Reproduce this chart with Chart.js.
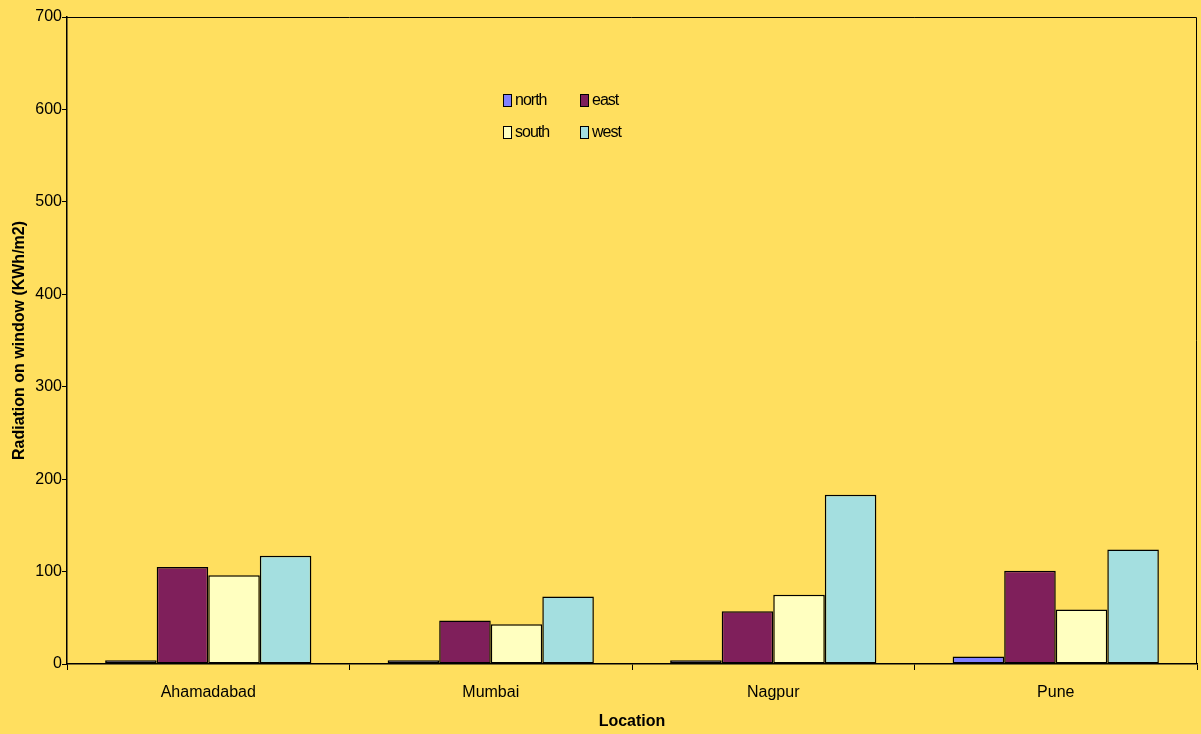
<!DOCTYPE html>
<html>
<head>
<meta charset="utf-8">
<script src="https://cdn.jsdelivr.net/npm/chart.js@4"></script>
<style>
  html, body { margin: 0; padding: 0; background: #FFDF5F; }
  #wrap { width: 1201px; height: 734px; }
</style>
</head>
<body>
<div id="wrap"><canvas id="myChart" width="1201" height="734"></canvas></div>
<script>
// data
const locations = ['Ahamadabad', 'Mumbai', 'Nagpur', 'Pune'];
const north = [4, 4, 4, 8];
const east = [105, 47, 57, 101];
const south = [96, 43, 75, 59];
const west = [117, 73, 183, 124];
const yTicks = [0, 100, 200, 300, 400, 500, 600, 700];

const FONT = "'Liberation Sans', Arial, sans-serif";

// legend drawn inside the plot, 2 x 2
const boxLegend = {
    id: 'boxLegend',
    afterDraw(chart) {
        const ctx = chart.ctx;
        const cols = [503, 580];
        const rows = [94, 126];
        ctx.save();
        ctx.font = '16px ' + FONT;
        ctx.textBaseline = 'middle';
        chart.data.datasets.forEach((ds, i) => {
            const x = cols[i % 2];
            const y = rows[Math.floor(i / 2)];
            ctx.fillStyle = ds.backgroundColor;
            ctx.fillRect(x, y, 9, 13);
            ctx.strokeStyle = '#000';
            ctx.lineWidth = 1;
            ctx.strokeRect(x + 0.5, y + 0.5, 8, 12);
            ctx.fillStyle = '#000';
            ctx.letterSpacing = '-1px';
            ctx.fillText(ds.label, x + 12, y + 7);
        });
        ctx.restore();
    }
};

// top and right frame lines of the plot
const frame = {
    id: 'frame',
    afterDraw(chart) {
        const a = chart.chartArea;
        const ctx = chart.ctx;
        ctx.save();
        ctx.strokeStyle = '#000';
        ctx.lineWidth = 1;
        ctx.beginPath();
        ctx.moveTo(a.left, a.top + 0.5);
        ctx.lineTo(a.right - 0.5, a.top + 0.5);
        ctx.lineTo(a.right - 0.5, a.bottom);
        ctx.stroke();
        ctx.restore();
    }
};

const ctx = document.getElementById('myChart').getContext('2d');
new Chart(ctx, {
    type: 'bar',
    data: {
        labels: locations,
        datasets: [
            { label: 'north', data: north, backgroundColor: '#8080FF' },
            { label: 'east', data: east, backgroundColor: '#7F1F5B' },
            { label: 'south', data: south, backgroundColor: '#FFFFC0' },
            { label: 'west', data: west, backgroundColor: '#A4DFE0' }
        ].map(d => Object.assign(d, {
            borderColor: '#000',
            borderWidth: 1.5,
            borderSkipped: false,
            categoryPercentage: 0.73,
            barPercentage: 1
        }))
    },
    options: {
        responsive: false,
        animation: false,
        layout: { padding: { top: 17, right: 4, left: 0, bottom: 0 } },
        plugins: {
            legend: { display: false },
            tooltip: { enabled: false }
        },
        scales: {
            x: {
                grid: {
                    offset: true,
                    drawOnChartArea: false,
                    color: '#000',
                    tickLength: 6
                },
                border: { color: '#000', width: 1.5 },
                ticks: { color: '#000', font: { family: FONT, size: 16 }, padding: 13 },
                title: {
                    display: true,
                    text: 'Location',
                    color: '#000',
                    font: { family: FONT, size: 16, weight: 'bold' },
                    padding: { top: 0, bottom: 3 }
                },
                afterFit: s => { s.height = 70; }
            },
            y: {
                min: 0,
                max: 700,
                afterBuildTicks: s => { s.ticks = yTicks.map(v => ({ value: v })); },
                grid: {
                    drawOnChartArea: false,
                    color: '#000',
                    tickLength: 5
                },
                border: { color: '#000', width: 1.5 },
                ticks: { color: '#000', font: { family: FONT, size: 16 }, padding: 0 },
                title: {
                    display: true,
                    text: 'Radiation on window (KWh/m2)',
                    color: '#000',
                    font: { family: FONT, size: 16, weight: 'bold' },
                    padding: { top: 10, bottom: 0 }
                },
                afterFit: s => { s.width = 67; }
            }
        }
    },
    plugins: [boxLegend, frame]
});
</script>
</body>
</html>
